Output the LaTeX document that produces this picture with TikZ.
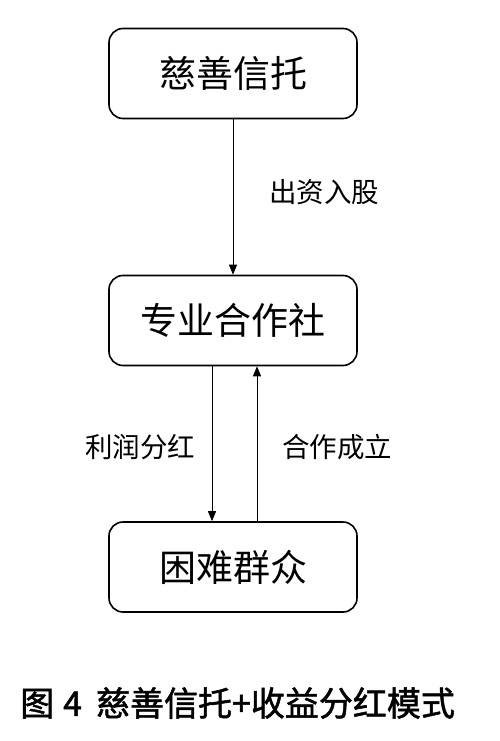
\documentclass[tikz,border=0pt]{standalone}
\usepackage{fontspec}
\usetikzlibrary{arrows.meta}
\newfontfamily\cjk{Noto Sans CJK SC}
\newfontfamily\cjkb{Noto Sans CJK SC}[FakeBold=1.5]
\begin{document}
\begin{tikzpicture}[x=1pt,y=-1pt,
  box/.style={draw, line width=1.6pt, rounded corners=14pt, minimum width=248pt, minimum height=90pt, inner sep=0pt, font=\cjk\fontsize{37}{42}\selectfont},
  lab/.style={inner sep=0pt, font=\cjk\fontsize{27.5}{32}\selectfont},
  conn/.style={line width=0.8pt, -{Triangle[length=10pt,width=8pt]}}]
\useasboundingbox (0,0) rectangle (500,741);
\node[box] (trust) at (233,73.5) {慈善信托};
\node[box] (coop) at (233,320.5) {专业合作社};
\node[box] (poor) at (233,567) {困难群众};
\coordinate (c1) at (212,0);
\coordinate (c2) at (257,0);
\draw[conn] (trust.south) -- (coop.north);
\draw[conn] (coop.south -| c1) -- (poor.north -| c1);
\draw[conn] (poor.north -| c2) -- (coop.south -| c2);
\node[lab] (l1) at (324,192) {出资入股};
\node[lab] (l2) at (140,447) {利润分红};
\node[lab] (l3) at (337,447) {合作成立};
\node[inner sep=0pt, anchor=west, font=\cjkb\fontsize{34}{38}\selectfont] (cap) at (20,703) {图\hspace{9pt}4\hspace{14pt}慈善信托+收益分红模式};
\end{tikzpicture}
\end{document}
